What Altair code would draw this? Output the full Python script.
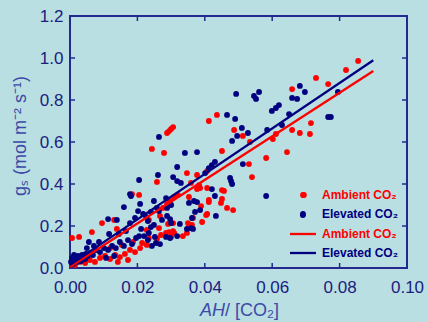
import altair as alt
import pandas as pd

# ---- data ----
amb_x = [0.0855, 0.0819, 0.0730, 0.0766, 0.0659, 0.0715, 0.0712, 0.0682, 0.0659, 0.0611,
         0.0602, 0.0582, 0.0644, 0.0487, 0.0513, 0.0534, 0.0451, 0.0436, 0.0412, 0.0306,
         0.0300, 0.0294, 0.0288, 0.0243, 0.0279, 0.0531, 0.0540, 0.0457, 0.0451, 0.0694,
         0.0466, 0.0484, 0.0347, 0.0407, 0.0377, 0.0258, 0.0359, 0.0383, 0.0377, 0.0451,
         0.0309, 0.0353, 0.0412, 0.0389, 0.0404, 0.0448, 0.0006, 0.0027, 0.0065, 0.0095,
         0.0131, 0.0139, 0.0184, 0.0205, 0.0267, 0.0276, 0.0288, 0.0297, 0.0320, 0.0291,
         0.0306, 0.0306, 0.0335, 0.0347, 0.0350, 0.0365, 0.0392, 0.0407, 0.0386, 0.0407,
         0.0234, 0.0228, 0.0234, 0.0228, 0.0264, 0.0270, 0.0258, 0.0285, 0.0294, 0.0300,
         0.0309, 0.0353, 0.0362, 0.0412,
         0.0015, 0.0030, 0.0045, 0.0059, 0.0074, 0.0089, 0.0104, 0.0119, 0.0134, 0.0148,
         0.0163, 0.0178, 0.0193, 0.0208, 0.0172, 0.0142, 0.0214, 0.0154, 0.0187, 0.0119,
         0.0077]
amb_y = [0.986, 0.943, 0.905, 0.876, 0.852, 0.690, 0.638, 0.643, 0.657, 0.638,
         0.614, 0.524, 0.552, 0.657, 0.629, 0.600, 0.557, 0.729, 0.700, 0.671,
         0.662, 0.652, 0.643, 0.567, 0.548, 0.495, 0.433, 0.367, 0.329, 0.348,
         0.286, 0.276, 0.452, 0.462, 0.443, 0.410, 0.405, 0.395, 0.376, 0.371,
         0.338, 0.338, 0.324, 0.295, 0.252, 0.310, 0.143, 0.148, 0.171, 0.214,
         0.229, 0.186, 0.352, 0.348, 0.248, 0.286, 0.305, 0.319, 0.348, 0.210,
         0.214, 0.176, 0.152, 0.167, 0.214, 0.238, 0.219, 0.257, 0.381, 0.381,
         0.229, 0.181, 0.143, 0.110, 0.190, 0.157, 0.138, 0.167, 0.171, 0.148,
         0.167, 0.195, 0.205, 0.314,
         0.014, 0.029, 0.024, 0.038, 0.029, 0.048, 0.057, 0.043, 0.062, 0.052,
         0.067, 0.086, 0.076, 0.095, 0.038, 0.029, 0.119, 0.110, 0.124, 0.095,
         0.086]

elev_x = [0.0682, 0.0697, 0.0659, 0.0674, 0.0795, 0.0493, 0.0561, 0.0546, 0.0552, 0.0466,
          0.0490, 0.0599, 0.0611, 0.0620, 0.0650, 0.0766, 0.0774, 0.0629, 0.0585, 0.0510,
          0.0528, 0.0496, 0.0481, 0.0264, 0.0341, 0.0377, 0.0513, 0.0475, 0.0478, 0.0481,
          0.0582, 0.0691, 0.0433, 0.0430, 0.0421, 0.0412, 0.0401, 0.0261, 0.0318, 0.0306,
          0.0318, 0.0329, 0.0421, 0.0285, 0.0368, 0.0430, 0.0205, 0.0178, 0.0181, 0.0160,
          0.0113, 0.0139, 0.0208, 0.0202, 0.0217, 0.0231, 0.0249, 0.0258, 0.0264, 0.0288,
          0.0297, 0.0285, 0.0297, 0.0318, 0.0326, 0.0347, 0.0365, 0.0371, 0.0386, 0.0226,
          0.0240, 0.0240, 0.0234, 0.0252, 0.0255, 0.0249, 0.0273, 0.0300, 0.0359, 0.0288,
          0.0300, 0.0353, 0.0377, 0.0362, 0.0166, 0.0211, 0.0205, 0.0116, 0.0145, 0.0056,
          0.0086, 0.0178, 0.0193,
          0.0003, 0.0006, 0.0012, 0.0018, 0.0024, 0.0030, 0.0036, 0.0042, 0.0047, 0.0053,
          0.0059, 0.0068, 0.0009, 0.0021, 0.0033, 0.0045, 0.0077, 0.0089, 0.0101, 0.0113,
          0.0125, 0.0136, 0.0148, 0.0160, 0.0172, 0.0184, 0.0196, 0.0220, 0.0231, 0.0243,
          0.0267, 0.0107, 0.0131, 0.0071, 0.0050]
elev_y = [0.867, 0.838, 0.810, 0.805, 0.838, 0.829, 0.838, 0.819, 0.805, 0.729,
          0.710, 0.748, 0.762, 0.776, 0.733, 0.719, 0.719, 0.681, 0.657, 0.667,
          0.643, 0.629, 0.605, 0.624, 0.548, 0.552, 0.495, 0.429, 0.414, 0.400,
          0.343, 0.252, 0.248, 0.505, 0.490, 0.476, 0.452, 0.443, 0.481, 0.433,
          0.414, 0.405, 0.376, 0.333, 0.319, 0.343, 0.419, 0.352, 0.343, 0.290,
          0.233, 0.229, 0.305, 0.271, 0.257, 0.224, 0.319, 0.286, 0.271, 0.248,
          0.233, 0.148, 0.143, 0.152, 0.210, 0.186, 0.186, 0.267, 0.276, 0.243,
          0.267, 0.195, 0.167, 0.148, 0.119, 0.205, 0.229, 0.214, 0.190, 0.286,
          0.300, 0.310, 0.314, 0.238, 0.176, 0.186, 0.152, 0.162, 0.162, 0.124,
          0.124, 0.214, 0.238,
          0.029, 0.048, 0.062, 0.043, 0.057, 0.048, 0.062, 0.052, 0.067, 0.057,
          0.071, 0.062, 0.019, 0.029, 0.033, 0.043, 0.086, 0.076, 0.095, 0.086,
          0.105, 0.095, 0.124, 0.105, 0.133, 0.114, 0.143, 0.152, 0.133, 0.105,
          0.114, 0.048, 0.057, 0.105, 0.095]

line_x = [0.0, 0.09]
amb_line_y = [0.005, 0.938]
elev_line_y = [0.015, 0.989]

x_ticks = [0.0, 0.02, 0.04, 0.06, 0.08, 0.10]
y_ticks = [0.0, 0.2, 0.4, 0.6, 0.8, 1.0, 1.2]
x_inner_ticks = [0.02, 0.04, 0.06, 0.08]
y_inner_ticks = [0.2, 0.4, 0.6, 0.8, 1.0]

groups = ["Ambient", "Elevated"]
colors = ["#ff0000", "#000080"]

# ---- tables ----
pts = pd.DataFrame({
    "x": amb_x + elev_x,
    "y": amb_y + elev_y,
    "g": ["Ambient"] * len(amb_x) + ["Elevated"] * len(elev_x),
})
lines = pd.DataFrame({
    "x": line_x + line_x,
    "y": amb_line_y + elev_line_y,
    "g": ["Ambient"] * 2 + ["Elevated"] * 2,
})
xt = pd.DataFrame({"x": x_inner_ticks})
yt = pd.DataFrame({"y": y_inner_ticks})

W, H = 337, 252
AX = "#23298e"
LAB = "#1a2080"
TIT = "#3d4aa8"
FONT = "Liberation Sans"

xscale = alt.Scale(domain=[0, 0.1], nice=False, zero=False)
yscale = alt.Scale(domain=[0, 1.2], nice=False, zero=False)
cscale = alt.Scale(domain=groups, range=colors)

xaxis = alt.Axis(values=x_ticks, format=".2f", labelPadding=11)
yaxis = alt.Axis(values=y_ticks, format=".1f", labelPadding=7)

X = alt.X("x:Q", scale=xscale, axis=xaxis, title=None)
Y = alt.Y("y:Q", scale=yscale, axis=yaxis, title=None)

points = alt.Chart(pts).mark_circle(size=34, opacity=1).encode(
    x=X, y=Y,
    color=alt.Color("g:N", scale=cscale, legend=None),
    order=alt.Order("g:N"),
)

fits = alt.Chart(lines).mark_line(strokeWidth=2.3).encode(
    x=X, y=Y,
    color=alt.Color("g:N", scale=cscale, legend=None),
    detail="g:N",
)

tick_len = 5
bot_t = alt.Chart(xt).mark_rule(color=AX, strokeWidth=1.5).encode(
    x=X, y=alt.value(H), y2=alt.value(H - tick_len))
top_t = alt.Chart(xt).mark_rule(color=AX, strokeWidth=1.5).encode(
    x=X, y=alt.value(0), y2=alt.value(tick_len))
left_t = alt.Chart(yt).mark_rule(color=AX, strokeWidth=1.5).encode(
    y=Y, x=alt.value(0), x2=alt.value(tick_len))
right_t = alt.Chart(yt).mark_rule(color=AX, strokeWidth=1.5).encode(
    y=Y, x=alt.value(W), x2=alt.value(W - tick_len))

# ---- legend (inside plot, lower right) ----
lx_dot, lx_txt = 233, 252
leg_font = dict(font=FONT, fontSize=12, fontWeight="bold", align="left", baseline="middle")
leg = [
    alt.Chart().mark_circle(size=34, opacity=1, color=colors[0]).encode(
        x=alt.value(lx_dot), y=alt.value(179)),
    alt.Chart().mark_circle(size=34, opacity=1, color=colors[1]).encode(
        x=alt.value(lx_dot), y=alt.value(198)),
    alt.Chart().mark_rule(color=colors[0], strokeWidth=2.3).encode(
        x=alt.value(220), x2=alt.value(246), y=alt.value(218)),
    alt.Chart().mark_rule(color=colors[1], strokeWidth=2.3).encode(
        x=alt.value(220), x2=alt.value(246), y=alt.value(237)),
    alt.Chart().mark_text(color=colors[0], **leg_font).encode(
        x=alt.value(lx_txt), y=alt.value(179), text=alt.value("Ambient CO₂")),
    alt.Chart().mark_text(color=colors[1], **leg_font).encode(
        x=alt.value(lx_txt), y=alt.value(198), text=alt.value("Elevated CO₂")),
    alt.Chart().mark_text(color=colors[0], **leg_font).encode(
        x=alt.value(lx_txt), y=alt.value(218), text=alt.value("Ambient CO₂")),
    alt.Chart().mark_text(color=colors[1], **leg_font).encode(
        x=alt.value(lx_txt), y=alt.value(237), text=alt.value("Elevated CO₂")),
]

# ---- axis titles ----
ytitle = alt.Chart().mark_text(font=FONT, fontSize=18, color=TIT, angle=270,
                               align="center", baseline="middle").encode(
    x=alt.value(-49), y=alt.value(120), text=alt.value("gₛ (mol m⁻² s⁻¹)"))
xtitle_a = alt.Chart().mark_text(font=FONT, fontSize=18, color=TIT, fontStyle="italic",
                                 align="right", baseline="alphabetic").encode(
    x=alt.value(155), y=alt.value(H + 48), text=alt.value("AH"))
xtitle_b = alt.Chart().mark_text(font=FONT, fontSize=18, color=TIT,
                                 align="left", baseline="alphabetic").encode(
    x=alt.value(155), y=alt.value(H + 48), text=alt.value("/ [CO₂]"))

chart = alt.layer(
    points, fits, bot_t, top_t, left_t, right_t, *leg, ytitle, xtitle_a, xtitle_b
).properties(
    width=W, height=H,
    padding={"left": 70, "top": 16, "right": 21, "bottom": 54},
    autosize=alt.AutoSizeParams(type="none"),
    background="#b9dfe2",
).configure_view(
    stroke=AX, strokeWidth=2, fill="#b9dfe2"
).configure_axis(
    ticks=False, domain=False, grid=False, title=None,
    labelFontSize=17, labelFont=FONT, labelColor=LAB,
    labelFlush=False, labelOverlap=False,
)

chart.save("out.html", embed_options={"renderer": "svg", "actions": False})
